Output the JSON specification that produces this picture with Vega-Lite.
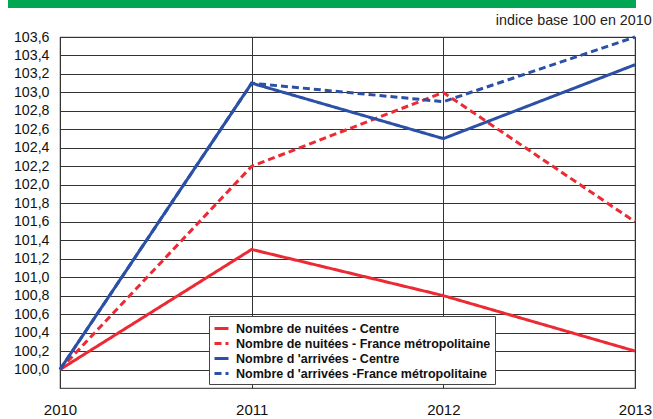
{
  "$schema": "https://vega.github.io/schema/vega-lite/v6.json",
  "padding": {"left": 8, "top": 0, "right": 2, "bottom": 2},
  "background": "white",
  "spacing": 5,
  "config": {
    "font": "Liberation Sans",
    "view": {"stroke": "#555", "strokeWidth": 1.2}
  },
  "vconcat": [
    {
      "width": 575,
      "height": 8,
      "data": {"values": [{"band": "top"}]},
      "mark": {"type": "rect", "color": "#00a651", "clip": false},
      "encoding": {
        "x": {"datum": 0, "type": "quantitative", "scale": {"domain": [0, 1], "range": [-52, 576]}, "axis": null},
        "x2": {"datum": 1}
      },
      "view": {"stroke": null}
    },
    {
      "width": 575,
      "height": 351,
      "title": {
        "text": "indice base 100 en 2010",
        "anchor": "end",
        "fontSize": 14.3,
        "fontWeight": "normal",
        "color": "#222",
        "offset": 2
      },
      "data": {
        "values": [
          {"year": 2010, "series": "Nombre de nuitées - Centre", "value": 100.0},
          {"year": 2011, "series": "Nombre de nuitées - Centre", "value": 101.3},
          {"year": 2012, "series": "Nombre de nuitées - Centre", "value": 100.8},
          {"year": 2013, "series": "Nombre de nuitées - Centre", "value": 100.2},
          {"year": 2010, "series": "Nombre de nuitées - France métropolitaine", "value": 100.0},
          {"year": 2011, "series": "Nombre de nuitées - France métropolitaine", "value": 102.2},
          {"year": 2012, "series": "Nombre de nuitées - France métropolitaine", "value": 103.0},
          {"year": 2013, "series": "Nombre de nuitées - France métropolitaine", "value": 101.6},
          {"year": 2010, "series": "Nombre d 'arrivées - Centre", "value": 100.0},
          {"year": 2011, "series": "Nombre d 'arrivées - Centre", "value": 103.1},
          {"year": 2012, "series": "Nombre d 'arrivées - Centre", "value": 102.5},
          {"year": 2013, "series": "Nombre d 'arrivées - Centre", "value": 103.3},
          {"year": 2010, "series": "Nombre d 'arrivées -France métropolitaine", "value": 100.0},
          {"year": 2011, "series": "Nombre d 'arrivées -France métropolitaine", "value": 103.1},
          {"year": 2012, "series": "Nombre d 'arrivées -France métropolitaine", "value": 102.9},
          {"year": 2013, "series": "Nombre d 'arrivées -France métropolitaine", "value": 103.6}
        ]
      },
      "mark": {"type": "line", "strokeWidth": 3},
      "encoding": {
        "x": {
          "field": "year",
          "type": "quantitative",
          "scale": {"domain": [2010, 2013], "nice": false, "zero": false},
          "axis": {
            "title": null,
            "values": [2010, 2011, 2012, 2013],
            "format": "d",
            "ticks": false,
            "domain": false,
            "labelFontSize": 15,
            "labelColor": "#111",
            "labelPadding": 14,
            "labelFlush": false,
            "grid": true,
            "gridColor": "#333",
            "gridWidth": 1
          }
        },
        "y": {
          "field": "value",
          "type": "quantitative",
          "scale": {"domain": [99.8, 103.6], "nice": false, "zero": false},
          "axis": {
            "title": null,
            "values": [100.0, 100.2, 100.4, 100.6, 100.8, 101.0, 101.2, 101.4, 101.6, 101.8, 102.0, 102.2, 102.4, 102.6, 102.8, 103.0, 103.2, 103.4, 103.6],
            "labelExpr": "replace(format(datum.value, '.1f'), '.', ',')",
            "ticks": false,
            "domain": false,
            "labelFontSize": 14.2,
            "labelColor": "#111",
            "labelPadding": 11,
            "grid": true,
            "gridColor": "#333",
            "gridWidth": 1
          }
        },
        "color": {
          "field": "series",
          "type": "nominal",
          "scale": {
            "domain": ["Nombre de nuitées - Centre", "Nombre de nuitées - France métropolitaine", "Nombre d 'arrivées - Centre", "Nombre d 'arrivées -France métropolitaine"],
            "range": ["#ec2a34", "#ec2a34", "#2b50a6", "#2b50a6"]
          },
          "legend": {
            "title": null,
            "orient": "none",
            "legendX": 149,
            "legendY": 316,
            "fillColor": "white",
            "strokeColor": "#444",
            "padding": 4,
            "rowPadding": 0,
            "symbolType": "stroke",
            "symbolSize": 196,
            "symbolStrokeWidth": 3,
            "labelFontSize": 12.5,
            "labelFontWeight": "bold",
            "labelColor": "#111",
            "labelLimit": 400,
            "labelOffset": 6
          }
        },
        "strokeDash": {
          "field": "series",
          "type": "nominal",
          "scale": {
            "domain": ["Nombre de nuitées - Centre", "Nombre de nuitées - France métropolitaine", "Nombre d 'arrivées - Centre", "Nombre d 'arrivées -France métropolitaine"],
            "range": [[1, 0], [7, 4], [1, 0], [7, 4]]
          },
          "legend": null
        },
        "order": {"field": "year"}
      }
    }
  ]
}
